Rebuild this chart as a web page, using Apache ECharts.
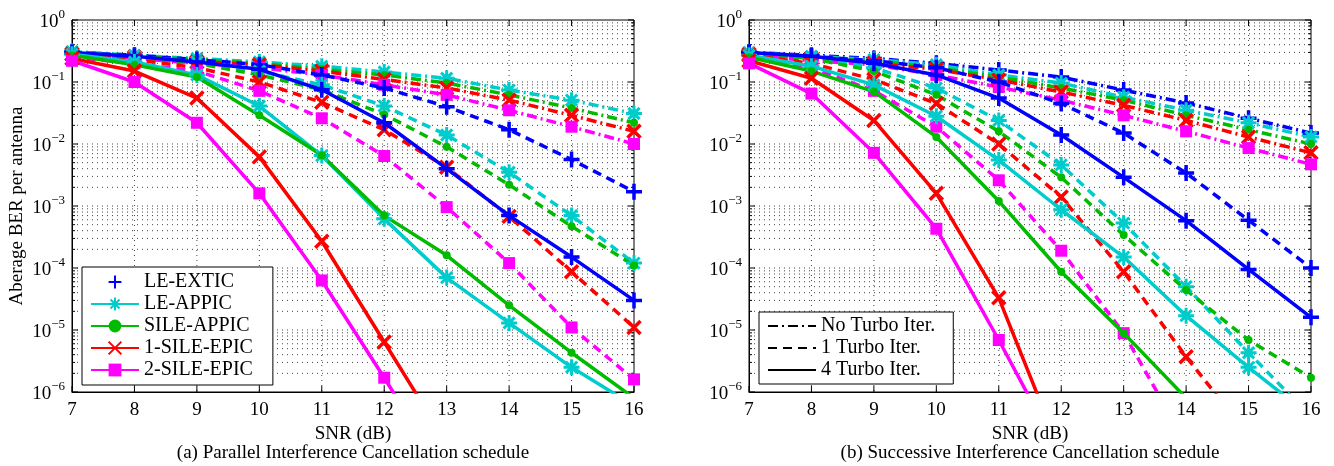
<!DOCTYPE html>
<html>
<head>
<meta charset="utf-8">
<script src="https://cdn.jsdelivr.net/npm/echarts@6/dist/echarts.min.js"></script>
<style>html,body{margin:0;padding:0;background:#fff;}#c{width:1334px;height:466px;}</style>
</head>
<body>
<div id="c"></div>
<script>
// ---------- DATA ----------
const snr = [7, 8, 9, 10, 11, 12, 13, 14, 15, 16];
const schemes = ['LE-EXTIC', 'LE-APPIC', 'SILE-APPIC', '1-SILE-EPIC', '2-SILE-EPIC'];
const iterNames = ['No Turbo Iter.', '1 Turbo Iter.', '4 Turbo Iter.'];
const yTickExps = [0, -1, -2, -3, -4, -5, -6];

// (a) Parallel IC — no turbo iteration (dash-dot)
const aNo_LEAPPIC   = [0.31, 0.27, 0.24, 0.21, 0.18, 0.145, 0.115, 0.074, 0.051, 0.031];
const aNo_SILEAPPIC = [0.29, 0.26, 0.23, 0.20, 0.16, 0.13, 0.096, 0.062, 0.038, 0.022];
const aNo_1SILE     = [0.28, 0.25, 0.21, 0.19, 0.15, 0.11, 0.080, 0.051, 0.029, 0.016];
const aNo_2SILE     = [0.27, 0.24, 0.20, 0.17, 0.13, 0.09, 0.062, 0.035, 0.019, 0.010];
// (a) 1 turbo iteration (dashed)
const a1_LEEXTIC    = [0.30, 0.27, 0.23, 0.19, 0.13, 0.08, 0.04, 0.017, 0.0056, 0.0017];
const a1_LEAPPIC    = [0.30, 0.26, 0.21, 0.15, 0.09, 0.041, 0.014, 0.0035, 0.0007, 0.00012];
const a1_SILEAPPIC  = [0.29, 0.25, 0.20, 0.13, 0.075, 0.03, 0.009, 0.0022, 0.00047, 0.00011];
const a1_1SILE      = [0.28, 0.23, 0.17, 0.10, 0.047, 0.017, 0.0042, 0.00068, 0.000087, 0.000011];
const a1_2SILE      = [0.25, 0.20, 0.15, 0.072, 0.026, 0.0064, 0.00096, 0.00012, 0.000011, 0.0000016];
// (a) 4 turbo iterations (solid)
const a4_LEEXTIC    = [0.30, 0.26, 0.21, 0.16, 0.075, 0.022, 0.004, 0.0007, 0.00015, 0.00003];
const a4_LEAPPIC    = [0.28, 0.21, 0.13, 0.041, 0.0065, 0.00062, 0.00007, 0.000013, 0.0000025, 0.0000006];
const a4_SILEAPPIC  = [0.27, 0.19, 0.12, 0.029, 0.0066, 0.0007, 0.00016, 0.000025, 0.0000043, 0.0000008];
const a4_1SILE      = [0.24, 0.15, 0.055, 0.0062, 0.00027, 0.0000064, 0.00000015, null, null, null];
const a4_2SILE      = [0.22, 0.10, 0.022, 0.0016, 0.000063, 0.0000017, 0.00000004, null, null, null];

// (b) Successive IC — no turbo iteration (dash-dot)
const bNo_LEEXTIC   = [0.30, 0.27, 0.24, 0.20, 0.156, 0.12, 0.074, 0.046, 0.026, 0.015];
const bNo_LEAPPIC   = [0.30, 0.26, 0.23, 0.19, 0.13, 0.096, 0.057, 0.035, 0.022, 0.013];
const bNo_SILEAPPIC = [0.29, 0.25, 0.22, 0.17, 0.12, 0.08, 0.051, 0.029, 0.017, 0.010];
const bNo_1SILE     = [0.28, 0.24, 0.20, 0.16, 0.108, 0.069, 0.042, 0.024, 0.013, 0.0072];
const bNo_2SILE     = [0.27, 0.22, 0.19, 0.13, 0.083, 0.051, 0.029, 0.016, 0.0086, 0.0047];
// (b) 1 turbo iteration (dashed)
const b1_LEEXTIC    = [0.30, 0.26, 0.22, 0.17, 0.10, 0.045, 0.015, 0.0034, 0.00059, 0.0001];
const b1_LEAPPIC    = [0.29, 0.25, 0.17, 0.08, 0.024, 0.0046, 0.00053, 0.00005, 0.0000043, 0.0000004];
const b1_SILEAPPIC  = [0.28, 0.24, 0.15, 0.062, 0.016, 0.0029, 0.00034, 0.000044, 0.0000069, 0.0000017];
const b1_1SILE      = [0.27, 0.20, 0.11, 0.045, 0.010, 0.0014, 0.000087, 0.0000037, 0.0000002, null];
const b1_2SILE      = [0.25, 0.17, 0.072, 0.019, 0.0026, 0.00019, 0.0000089, 0.00000015, null, null];
// (b) 4 turbo iterations (solid)
const b4_LEEXTIC    = [0.30, 0.26, 0.20, 0.13, 0.055, 0.014, 0.0029, 0.00058, 0.000095, 0.000016];
const b4_LEAPPIC    = [0.27, 0.18, 0.09, 0.028, 0.0055, 0.00087, 0.00015, 0.000017, 0.0000025, 0.0000004];
const b4_SILEAPPIC  = [0.25, 0.15, 0.07, 0.013, 0.0012, 0.000087, 0.0000089, 0.0000008, null, null];
const b4_1SILE      = [0.22, 0.115, 0.024, 0.0016, 0.000033, 0.0000001, null, null, null, null];
const b4_2SILE      = [0.20, 0.065, 0.0072, 0.00043, 0.0000069, 0.00000009, null, null, null, null];

// ---------- STYLE ----------
const FONT = 'Liberation Serif';
const colors = ['#0000ff', '#00cccc', '#00bb00', '#ff0000', '#ff00ff'];
const lineTypes = [[10, 4, 2, 4], [9, 6], 'solid'];
const markers = [
  {symbol: 'path://M0,-10L0,10M-10,0L10,0', size: 16, bw: 3.5},
  {symbol: 'path://M0,-10L0,10M-10,0L10,0M-7,-7L7,7M-7,7L7,-7', size: 16, bw: 3},
  {symbol: 'circle', size: 8, bw: 0},
  {symbol: 'path://M-10,-10L10,10M-10,10L10,-10', size: 13, bw: 3.5},
  {symbol: 'rect', size: 12, bw: 0}
];

function lineSeries(panel, schemeIdx, iterIdx, values) {
  const c = colors[schemeIdx], m = markers[schemeIdx];
  const pts = [];
  values.forEach((v, i) => { if (v != null) pts.push([snr[i], v]); });
  return {
    type: 'line', name: schemes[schemeIdx] + ' #' + panel + iterIdx,
    xAxisIndex: panel, yAxisIndex: panel, data: pts,
    symbol: m.symbol, symbolSize: m.size, showSymbol: true, showAllSymbol: true,
    lineStyle: {color: c, width: 3.5, type: lineTypes[iterIdx], cap: 'butt'},
    itemStyle: {color: c, borderColor: c, borderWidth: m.bw},
    emphasis: {disabled: true}, silent: true, z: 3 + iterIdx, clip: true
  };
}

const panelA = [
  [1, 0, aNo_LEAPPIC], [2, 0, aNo_SILEAPPIC], [3, 0, aNo_1SILE], [4, 0, aNo_2SILE],
  [0, 1, a1_LEEXTIC], [1, 1, a1_LEAPPIC], [2, 1, a1_SILEAPPIC], [3, 1, a1_1SILE], [4, 1, a1_2SILE],
  [0, 2, a4_LEEXTIC], [1, 2, a4_LEAPPIC], [2, 2, a4_SILEAPPIC], [3, 2, a4_1SILE], [4, 2, a4_2SILE]
];
const panelB = [
  [0, 0, bNo_LEEXTIC], [1, 0, bNo_LEAPPIC], [2, 0, bNo_SILEAPPIC], [3, 0, bNo_1SILE], [4, 0, bNo_2SILE],
  [0, 1, b1_LEEXTIC], [1, 1, b1_LEAPPIC], [2, 1, b1_SILEAPPIC], [3, 1, b1_1SILE], [4, 1, b1_2SILE],
  [0, 2, b4_LEEXTIC], [1, 2, b4_LEAPPIC], [2, 2, b4_SILEAPPIC], [3, 2, b4_1SILE], [4, 2, b4_2SILE]
];

const series = [];
panelA.forEach(d => series.push(lineSeries(0, d[0], d[1], d[2])));
panelB.forEach(d => series.push(lineSeries(1, d[0], d[1], d[2])));

// legend proxy series (no data)
schemes.forEach((n, i) => {
  const m = markers[i];
  series.push({type: 'line', name: n, xAxisIndex: 0, yAxisIndex: 0, data: [],
    symbol: m.symbol, symbolSize: m.size,
    lineStyle: {color: colors[i], width: 3.5, type: 'solid', opacity: i === 0 ? 0 : 1},
    itemStyle: {color: colors[i], borderColor: colors[i], borderWidth: m.bw}});
});
iterNames.forEach((n, i) => {
  series.push({type: 'line', name: n, xAxisIndex: 1, yAxisIndex: 1, data: [],
    symbol: 'none', lineStyle: {color: '#000', width: 3.5, type: lineTypes[i], cap: 'butt'},
    itemStyle: {color: '#000', opacity: 0}});
});

// grid lines & ticks via custom series (through axis scales)
const gridData = [];
snr.forEach(x => gridData.push([x, 1, 2]));
yTickExps.forEach(e => gridData.push([7, Math.pow(10, e), 1]));
yTickExps.forEach(e => { if (e < 0) for (let k = 2; k <= 9; k++) gridData.push([7, k * Math.pow(10, e), 0]); });

function gridRender(params, api) {
  const kind = api.value(2);
  const dot = {stroke: '#444', lineWidth: 1, lineDash: [1, 4]};
  const tk = {stroke: '#000', lineWidth: 1};
  const ch = [];
  if (kind === 2) {
    const x = api.value(0);
    const t = api.coord([x, 1]), b = api.coord([x, 1e-6]);
    if (x !== 7 && x !== 16) ch.push({type: 'line', shape: {x1: t[0], y1: t[1], x2: b[0], y2: b[1]}, style: dot});
    ch.push({type: 'line', shape: {x1: b[0], y1: b[1], x2: b[0], y2: b[1] - 6}, style: tk});
    ch.push({type: 'line', shape: {x1: t[0], y1: t[1], x2: t[0], y2: t[1] + 6}, style: tk});
  } else {
    const v = api.value(1);
    const l = api.coord([7, v]), r = api.coord([16, v]);
    const len = kind === 1 ? 6 : 3;
    if (v !== 1 && v !== 1e-6) ch.push({type: 'line', shape: {x1: l[0], y1: l[1], x2: r[0], y2: r[1]}, style: dot});
    ch.push({type: 'line', shape: {x1: l[0], y1: l[1], x2: l[0] + len, y2: l[1]}, style: tk});
    ch.push({type: 'line', shape: {x1: r[0], y1: r[1], x2: r[0] - len, y2: r[1]}, style: tk});
  }
  return {type: 'group', children: ch};
}
[0, 1].forEach(p => series.unshift({type: 'custom', xAxisIndex: p, yAxisIndex: p, data: gridData,
  renderItem: gridRender, silent: true, z: 1, clip: false}));

const txt = {color: '#000', fontFamily: FONT, fontSize: 19};
function xAx(i) {
  return {type: 'value', gridIndex: i, min: 7, max: 16, interval: 1,
    axisLine: {show: true, lineStyle: {color: '#000', width: 1}}, axisTick: {show: false},
    splitLine: {show: false}, axisLabel: Object.assign({margin: 9}, txt),
    name: 'SNR (dB)', nameLocation: 'middle', nameGap: 29, nameTextStyle: txt};
}
function yAx(i) {
  return {type: 'log', logBase: 10, gridIndex: i, min: 1e-6, max: 1, interval: 1,
    axisLine: {show: true, lineStyle: {color: '#000', width: 1}}, axisTick: {show: false},
    splitLine: {show: false}, minorTick: {show: false},
    axisLabel: {margin: 7, formatter: v => {
        const e = Math.round(Math.log10(v));
        return '{b|10}{s|' + (e < 0 ? '\u2212' + (-e) : String(e)) + '}';
      },
      rich: {b: {fontFamily: FONT, fontSize: 19, color: '#000', lineHeight: 24, verticalAlign: 'bottom'},
             s: {fontFamily: FONT, fontSize: 13, color: '#000', lineHeight: 13, verticalAlign: 'top'}}},
    name: i === 0 ? 'Aberage BER per antenna' : '', nameLocation: 'middle', nameGap: 45, nameTextStyle: txt};
}

const legText = {color: '#000', fontFamily: FONT, fontSize: 20};
const option = {
  animation: false,
  backgroundColor: '#fff',
  grid: [
    {left: 72, right: 700, top: 20, bottom: 74, show: true, borderColor: '#000', borderWidth: 1, outerBoundsMode: 'none'},
    {left: 749, right: 23, top: 20, bottom: 74, show: true, borderColor: '#000', borderWidth: 1, outerBoundsMode: 'none'}
  ],
  xAxis: [xAx(0), xAx(1)],
  yAxis: [yAx(0), yAx(1)],
  legend: [
    {data: schemes.map((n, i) => i === 0 ? {name: n, lineStyle: {opacity: 0}} : n),
     orient: 'vertical', left: 82, top: 267, itemWidth: 48, itemHeight: 16, itemGap: 2,
     padding: [5, 20, 5, 8], backgroundColor: '#fff', borderColor: '#000', borderWidth: 1,
     borderRadius: 0, selectedMode: false, textStyle: legText},
    {data: iterNames.map(n => ({name: n, itemStyle: {opacity: 0}})),
     orient: 'vertical', left: 759, top: 312, itemWidth: 48, itemHeight: 16, itemGap: 2,
     padding: [4, 18, 4, 8], backgroundColor: '#fff', borderColor: '#000', borderWidth: 1,
     borderRadius: 0, selectedMode: false, textStyle: legText}
  ],
  graphic: [
    {type: 'text', x: 353, y: 453, style: {text: '(a) Parallel Interference Cancellation schedule',
      fontFamily: FONT, fontSize: 19, fill: '#000', align: 'center', verticalAlign: 'middle'}},
    {type: 'text', x: 1030, y: 453, style: {text: '(b) Successive Interference Cancellation schedule',
      fontFamily: FONT, fontSize: 19, fill: '#000', align: 'center', verticalAlign: 'middle'}}
  ],
  series: series
};

const chart = echarts.init(document.getElementById('c'), null, {renderer: 'canvas'});
chart.setOption(option);
</script>
</body>
</html>
